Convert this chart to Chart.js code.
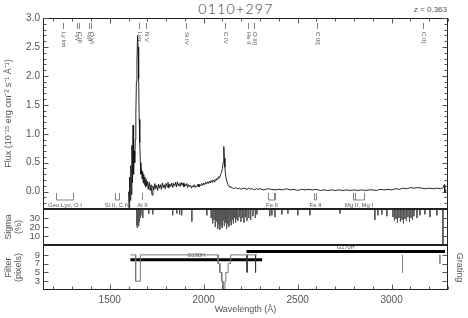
<!DOCTYPE html>
<html><head><meta charset="utf-8">
<script src="https://cdn.jsdelivr.net/npm/chart.js@4.4.0/dist/chart.umd.min.js"></script>
<style>
html,body{margin:0;padding:0;background:#fff;}
#wrap{position:relative;width:468px;height:318px;overflow:hidden;}
canvas{position:absolute;left:0;}
#title{position:absolute;left:2px;width:468px;top:0px;text-align:center;font:300 14px "Lato","Liberation Sans",sans-serif;color:#333;letter-spacing:1.3px}
#z{position:absolute;right:21px;top:5px;font:8px "Liberation Sans",sans-serif;color:#555}
</style></head><body>
<div id="wrap">
<div id="title">0110+297</div>
<div id="z"><i>z</i> = 0.363</div>
<canvas id="c1" width="468" height="210" style="top:0px"></canvas>
<canvas id="c2" width="468" height="50" style="top:200px"></canvas>
<canvas id="c3" width="468" height="78" style="top:240px"></canvas>
</div>
<script>
// ---------------- data ----------------
const spectrum = [
[1600,0.00],[1603,-0.30],[1606,0.25],[1609,-0.15],[1612,0.45],[1615,-0.05],[1618,0.80],[1621,0.15],[1624,1.15],[1627,0.30],
[1630,0.70],[1633,0.50],[1636,0.90],[1639,1.35],[1642,1.90],[1645,2.25],[1648,2.70],[1651,2.50],[1654,1.95],[1657,1.25],
[1660,0.85],[1663,0.50],[1666,0.30],[1669,0.38],[1672,0.22],[1675,0.35],[1678,0.15],[1681,0.30],[1684,0.12],[1687,0.25],
[1690,0.08],[1693,0.22],[1696,0.10],[1700,0.18],[1705,0.04],[1710,0.16],[1715,0.02],[1720,0.12],[1725,-0.06],[1730,0.10],
[1735,0.03],[1740,0.14],[1745,0.05],[1750,0.11],[1755,0.02],[1760,0.13],[1765,0.06],[1770,0.12],[1775,0.04],[1780,0.15],
[1785,0.07],[1790,0.12],[1795,0.05],[1800,0.14],[1805,0.08],[1810,0.16],[1815,0.06],[1820,0.13],[1825,0.09],[1830,0.15],
[1835,0.07],[1840,0.14],[1845,0.10],[1850,0.16],[1855,0.08],[1860,0.17],[1865,0.10],[1870,0.14],[1875,0.09],[1880,0.16],
[1885,0.11],[1890,0.15],[1895,0.08],[1900,0.13],[1905,0.10],[1910,0.14],[1915,0.07],[1920,0.12],[1925,0.09],[1930,0.11],
[1935,0.06],[1940,0.10],[1945,0.08],[1950,0.12],[1955,0.07],[1960,0.10],[1965,0.09],[1970,0.13],[1975,0.08],[1980,0.12],
[1985,0.10],[1990,0.14],[1995,0.11],[2000,0.15],[2005,0.12],[2010,0.16],[2015,0.13],[2020,0.17],[2025,0.14],[2030,0.18],
[2035,0.15],[2040,0.19],[2045,0.16],[2050,0.20],[2055,0.17],[2060,0.21],[2065,0.19],[2070,0.23],[2075,0.21],[2080,0.26],
[2085,0.24],[2090,0.30],[2095,0.33],[2100,0.40],[2103,0.50],[2106,0.62],[2108,0.78],[2110,0.58],[2113,0.42],[2116,0.30],
[2120,0.22],[2125,0.16],[2130,0.12],[2135,0.09],[2140,0.08],[2150,0.07],[2160,0.05],[2170,0.07],[2180,0.05],[2190,0.06],
[2200,0.04],[2210,0.06],[2220,0.05],[2230,0.04],[2240,0.06],[2250,0.04],[2260,0.05],[2270,0.03],[2280,0.05],[2290,0.04],
[2300,0.05],[2320,0.03],[2340,0.05],[2360,0.04],[2380,0.03],[2400,0.04],[2420,0.03],[2440,0.05],[2460,0.03],[2480,0.04],
[2500,0.02],[2520,0.04],[2540,0.03],[2560,0.04],[2580,0.03],[2600,0.04],[2620,0.02],[2640,0.03],[2660,0.02],[2680,0.03],
[2700,0.02],[2720,0.03],[2740,0.02],[2760,0.03],[2780,0.02],[2800,0.03],[2820,0.02],[2840,0.03],[2860,0.02],[2880,0.03],
[2900,0.03],[2920,0.02],[2940,0.04],[2960,0.03],[2980,0.04],[3000,0.03],[3020,0.05],[3040,0.04],[3060,0.06],[3080,0.05],
[3100,0.07],[3120,0.06],[3140,0.07],[3160,0.06],[3180,0.05],[3200,0.06],[3220,0.05],[3240,0.06],[3260,0.05],[3275,0.07],
[3280,0.12],[3283,-0.02],[3290,0.03]
];
const sigmaSpikes = [
[1644,22],[1647,19],[1650,24],[1654,21],[1658,26],[1662,30],[1666,33],[1676,30],[1708,35],[1729,34],
[1835,33],[1857,35],[1872,34],[1883,33],[1937,26],[2017,33],[2040,30],[2048,24],[2055,28],[2062,20],
[2068,26],[2075,18],[2080,23],[2086,17],[2092,22],[2098,19],[2104,27],[2110,21],[2116,25],[2122,18],
[2128,23],[2134,20],[2140,26],[2146,22],[2152,28],[2158,24],[2164,30],[2170,25],[2176,29],[2182,27],
[2190,31],[2198,26],[2206,30],[2214,25],[2222,31],[2230,27],[2240,30],[2250,28],[2262,32],[2275,30],
[2283,34],[2352,32],[2363,33],[2379,31],[2416,34],[2448,35],[2501,33],[2565,33],[2725,35],[2911,28],
[2927,33],[2948,34],[2975,32],[3007,31],[3015,27],[3023,29],[3031,25],[3039,30],[3047,26],[3055,28],
[3063,24],[3071,29],[3079,27],[3087,31],[3095,26],[3103,30],[3111,28],[3119,32],[3135,30],[3151,33],
[3177,34],[3204,31],[3241,33],[3273,0]
];
const filterG190H = [[1610,9],[1638,9],[1638,3],[1663,3],[1663,9],[2077,9],[2077,7],[2086,7],[2086,5],[2096,5],[2096,3],
[2103,3],[2103,1],[2113,1],[2113,3],[2118,3],[2118,5],[2130,5],[2130,7],[2143,7],[2143,9],[2283,9]];
const filterDipsDark = [[2231,5],[2276,5]];
const filterDipsGrey = [[3058,5],[3257,7]];
const gratingNames = ['G190H','G270H'];
const gratingStart = [1610,2228];
const gratingEnd = [2311,3284];
const gratingLevel = [7.9,9.75];
const emissionNames = ['Ly lim','Lyγ','C III','Lyβ','O VI','Lyα','N V','Si IV','C IV','He II','O III]','C III]','C II]'];
const emissionWaves = [1251,1325,1334,1392,1403,1656,1693,1905,2112,2236,2270,2603,3167];
const ismNames = ['Geo Lyα, O I','Si II, C IV','Al II','Fe II','Fe II','Mg II, Mg I'];
const ismWaves = [[1216,1302],[1526,1549],[1670],[2344,2374,2382],[2586,2600],[2796,2803,2852]];
const xMajorTicks = [1500,2000,2500,3000];
const fluxTicks = [0,0.5,1,1.5,2,2.5,3];
const sigmaTicks = [10,20,30];
const filterTicks = [3,5,7,9];
const X_MIN = 1145, X_MAX = 3300;

// ---------------- helpers ----------------
const FONT = '"Liberation Sans", sans-serif';
const TXT = '#555';
function spikes(list, base){
  const out = [];
  list.forEach(([x,v]) => { out.push({x:x,y:base},{x:x,y:v},{x:x,y:null}); });
  return out;
}
function range(a,b,s){ const r=[]; for(let v=a; v<=b+1e-9; v+=s) r.push(Math.round(v*1000)/1000); return r; }
const xMinorTicks = range(1200,3300,100);
function noPad(s){ s.paddingTop=0; s.paddingBottom=0; s.paddingLeft=0; s.paddingRight=0; }

const framePlugin = {
  id:'frame',
  afterDraw(chart, args, o){
    const {ctx, chartArea:a, scales} = chart;
    const L=Math.round(a.left)+0.5, R=Math.round(a.right)-0.5, T=Math.round(a.top)+0.5, B=Math.round(a.bottom)-0.5;
    ctx.save();
    ctx.strokeStyle='#222'; ctx.lineWidth=1;
    ctx.strokeRect(L, T, R-L, B-T);
    ctx.strokeStyle='#555';
    ctx.beginPath();
    const x = scales.x;
    if (o.xTop || o.xBottom){
      xMinorTicks.forEach(v=>{
        const p = Math.round(x.getPixelForValue(v))+0.5;
        const len = xMajorTicks.includes(v) ? 5 : 3;
        if (o.xTop){ ctx.moveTo(p,T); ctx.lineTo(p,T+len); }
        if (o.xBottom){ ctx.moveTo(p,B); ctx.lineTo(p,B-len); }
      });
    }
    const y = scales.y;
    (o.yMinor||[]).forEach(v=>{
      const p = Math.round(y.getPixelForValue(v))+0.5;
      const len = (o.yMajor||[]).includes(v) ? 5 : 3;
      ctx.moveTo(L,p); ctx.lineTo(L+len,p);
      if (o.yRight){ ctx.moveTo(R,p); ctx.lineTo(R-len,p); }
    });
    ctx.stroke();
    ctx.restore();
  }
};

const lineLabelPlugin = {
  id:'lineLabels',
  afterDatasetsDraw(chart){
    const {ctx, chartArea:a, scales:{x}} = chart;
    ctx.save();
    ctx.strokeStyle='#666'; ctx.fillStyle='#555'; ctx.lineWidth=0.8;
    ctx.font = '6px ' + FONT;
    emissionWaves.forEach((w,i)=>{
      const p = Math.round(x.getPixelForValue(w))+0.5;
      ctx.beginPath(); ctx.moveTo(p,a.top+5); ctx.lineTo(p,a.top+11); ctx.stroke();
      ctx.save(); ctx.translate(p, a.top+14); ctx.rotate(Math.PI/2);
      ctx.textAlign='left'; ctx.textBaseline='middle';
      ctx.fillText(emissionNames[i],0,0); ctx.restore();
    });
    ismWaves.forEach((ws,i)=>{
      const ps = ws.map(w=>Math.round(x.getPixelForValue(w))+0.5);
      const top = a.bottom-16, bot = a.bottom-9;
      ctx.beginPath();
      ps.forEach(p=>{ ctx.moveTo(p,top); ctx.lineTo(p,bot); });
      if (ps.length>1){ ctx.moveTo(ps[0],bot); ctx.lineTo(ps[ps.length-1],bot); }
      ctx.stroke();
      ctx.textAlign='center'; ctx.textBaseline='middle';
      ctx.fillText(ismNames[i], (ps[0]+ps[ps.length-1])/2, a.bottom-4);
    });
    ctx.restore();
  }
};

const gratingLabelPlugin = {
  id:'gratingLabels',
  afterDatasetsDraw(chart){
    const {ctx, scales:{x,y}} = chart;
    ctx.save(); ctx.fillStyle='#555'; ctx.font='5.5px '+FONT;
    ctx.textAlign='center'; ctx.textBaseline='bottom';
    gratingNames.forEach((n,i)=>{
      const px = x.getPixelForValue((gratingStart[i]+gratingEnd[i])/2);
      const py = y.getPixelForValue(gratingLevel[i]);
      ctx.fillText(n, px, py-1.5);
    });
    ctx.restore();
  }
};

function yAxisBase(title, fmt, size){
  return {
    grid:{display:false, drawTicks:false}, border:{display:false},
    ticks:{font:{size:size,family:FONT}, color:TXT, padding:3, callback:fmt, autoSkip:false},
    title:{display:true, text:title, font:{size:9,family:FONT,lineHeight:1.15}, color:TXT, padding:{top:3,bottom:0}},
    afterFit:s=>{ s.width = 43; noPad(s); }
  };
}
const common = {responsive:false, animation:false, events:[], plugins:{legend:{display:false}, tooltip:{enabled:false}}};

// ---------------- main flux panel ----------------
new Chart(document.getElementById('c1'), {
  type:'line',
  data:{datasets:[{data:spectrum, borderColor:'#111', borderWidth:0.9, pointRadius:0, tension:0}]},
  options:Object.assign({}, common, {
    layout:{padding:{top:18,right:20,bottom:1,left:0}},
    plugins:Object.assign({}, common.plugins, {frame:{xTop:true, xBottom:false, yMajor:fluxTicks, yMinor:range(-0.3,3.0,0.1), yRight:true}}),
    scales:{
      x:{type:'linear', min:X_MIN, max:X_MAX, display:false},
      y:Object.assign(yAxisBase('Flux (10⁻¹⁵ erg cm⁻² s⁻¹ Å⁻¹)', v=>Number(v).toFixed(1), 10), {
        min:-0.3, max:3.0,
        afterBuildTicks:s=>{ s.ticks = fluxTicks.map(v=>({value:v})); }
      })
    }
  }),
  plugins:[framePlugin, lineLabelPlugin]
});

// ---------------- sigma panel ----------------
new Chart(document.getElementById('c2'), {
  type:'line',
  data:{datasets:[{data:spikes(sigmaSpikes,40), borderColor:'#555', borderWidth:1, pointRadius:0, spanGaps:false}]},
  options:Object.assign({}, common, {
    layout:{padding:{top:9,right:20,bottom:5,left:0}},
    plugins:Object.assign({}, common.plugins, {frame:{yMajor:sigmaTicks, yMinor:sigmaTicks, yRight:true}}),
    scales:{
      x:{type:'linear', min:X_MIN, max:X_MAX, display:false},
      y:Object.assign(yAxisBase(['Sigma','(%)'], v=>String(v), 9.5), {
        min:0, max:40,
        afterBuildTicks:s=>{ s.ticks = sigmaTicks.map(v=>({value:v})); }
      })
    }
  }),
  plugins:[framePlugin]
});

// ---------------- filter / grating panel ----------------
const gratingSets = gratingNames.map((n,i)=>({
  label:n, data:[{x:gratingStart[i],y:gratingLevel[i]},{x:gratingEnd[i],y:gratingLevel[i]}],
  borderColor:'#000', borderWidth:3, pointRadius:0
}));
new Chart(document.getElementById('c3'), {
  type:'line',
  data:{datasets:[
    {data:filterG190H.map(([x,y])=>({x,y})), borderColor:'#777', borderWidth:1, pointRadius:0},
    {data:spikes(filterDipsGrey,9), borderColor:'#888', borderWidth:1, pointRadius:0, spanGaps:false},
    {data:spikes(filterDipsDark,9), borderColor:'#333', borderWidth:1, pointRadius:0, spanGaps:false},
    ...gratingSets
  ]},
  options:Object.assign({}, common, {
    layout:{padding:{top:5,right:0,bottom:0,left:0}},
    plugins:Object.assign({}, common.plugins, {frame:{xTop:false, xBottom:true, yMajor:filterTicks, yMinor:filterTicks, yRight:true}}),
    scales:{
      x:{type:'linear', min:X_MIN, max:X_MAX,
         grid:{display:false, drawTicks:false}, border:{display:false},
         ticks:{font:{size:10,family:FONT}, color:TXT, padding:4, maxRotation:0, autoSkip:false, callback:v=>String(v)},
         afterBuildTicks:s=>{ s.ticks = xMajorTicks.map(v=>({value:v})); },
         title:{display:true, text:'Wavelength (Å)', font:{size:9,family:FONT}, color:TXT, padding:{top:0,bottom:3}},
         afterFit:s=>{ s.height = 28; noPad(s); }},
      y:Object.assign(yAxisBase(['Filter','(pixels)'], v=>String(v), 9.5), {
        min:1, max:11.25,
        afterBuildTicks:s=>{ s.ticks = filterTicks.map(v=>({value:v})); }
      }),
      y2:{position:'right', min:0, max:1, grid:{display:false, drawTicks:false}, border:{display:false},
          ticks:{display:false},
          title:{display:true, text:'Grating', font:{size:9,family:FONT}, color:TXT, padding:{top:3,bottom:0}},
          afterFit:s=>{ s.width = 20; noPad(s); }}
    }
  }),
  plugins:[framePlugin, gratingLabelPlugin]
});
</script>
</body></html>
